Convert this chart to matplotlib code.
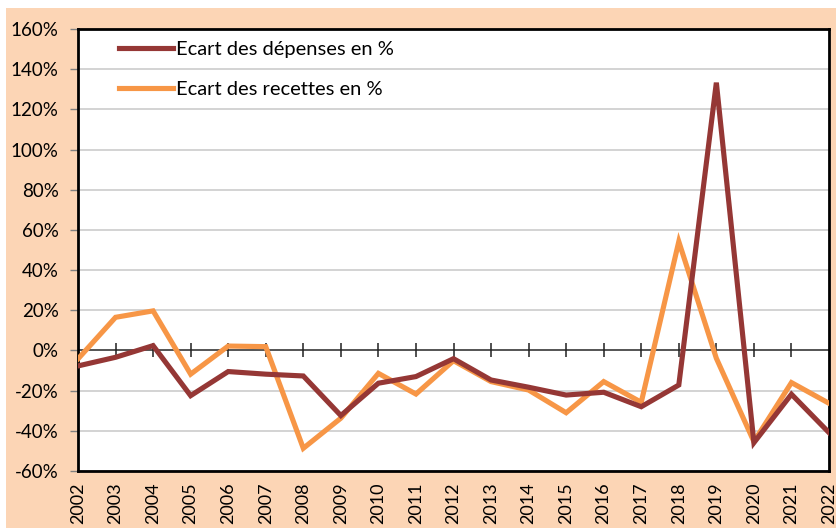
# ============================================================
# ECART DES DEPENSES ET DES RECETTES (2002 - 2022)
# ============================================================

import matplotlib.pyplot as plt
import matplotlib.patches as patches
from matplotlib.ticker import FuncFormatter


# ============================================================
# DONNEES
# ============================================================

annees = list(range(2002, 2023))

ecart_depenses = [
    -7.7, -3.4, 2.4, -22.5, -10.5, -11.8, -12.7, -32.4, -16.3, -13.0,
    -4.1, -14.7, -18.3, -22.2, -20.8, -28.0, -17.2, 133.3, -45.9,
    -21.8, -40.9
]

ecart_recettes = [
    -4.2, 16.5, 19.7, -11.8, 2.2, 1.9, -48.7, -33.7, -11.4, -21.7,
    -5.1, -15.5, -19.7, -31.0, -15.5, -25.8, 54.2, -3.9, -45.4,
    -16.0, -26.3
]

graduations_y = list(range(-60, 161, 20))

libelle_depenses = "Ecart des dépenses en %"
libelle_recettes = "Ecart des recettes en %"


# ============================================================
# STYLE
# ============================================================

plt.rcParams["font.family"] = ["Lato", "DejaVu Sans"]

COULEUR_FOND = "#FCD5B5"
COULEUR_DEPENSES = "#953735"
COULEUR_RECETTES = "#F79646"
COULEUR_GRILLE = "#C8C8C8"


# ============================================================
# FIGURE
# ============================================================

fig = plt.figure(
    figsize=(8.36, 5.28),
    dpi=100,
    facecolor="white"
)

fond = patches.Rectangle(
    (6 / 836, 0),
    1 - 6 / 836,
    1 - 8 / 528,
    transform=fig.transFigure,
    facecolor=COULEUR_FOND,
    edgecolor="none",
    zorder=-10
)
fig.patches.append(fond)

ax = fig.add_axes(
    [78 / 836, 57 / 528, 751 / 836, 442 / 528]
)
ax.set_facecolor("white")
ax.set_zorder(1)


# ============================================================
# COURBES
# ============================================================

ax.plot(
    annees,
    ecart_depenses,
    color=COULEUR_DEPENSES,
    linewidth=3.7,
    solid_joinstyle="miter",
    label=libelle_depenses,
    zorder=4
)

ax.plot(
    annees,
    ecart_recettes,
    color=COULEUR_RECETTES,
    linewidth=3.7,
    solid_joinstyle="miter",
    label=libelle_recettes,
    zorder=3
)


# ============================================================
# AXE ZERO ET GRILLE
# ============================================================

ax.axhline(
    0,
    color="#404040",
    linewidth=1.2,
    zorder=2
)

ax.plot(
    annees[1:-1],
    [0] * len(annees[1:-1]),
    linestyle="none",
    marker="|",
    markersize=9.5,
    markeredgewidth=1.1,
    color="#202020",
    zorder=2
)

ax.set_xlim(annees[0], annees[-1])
ax.set_ylim(graduations_y[0], graduations_y[-1])

ax.set_yticks(graduations_y)
ax.yaxis.set_major_formatter(
    FuncFormatter(lambda v, _: f"{v:.0f}%")
)
ax.yaxis.grid(
    True,
    color=COULEUR_GRILLE,
    linewidth=1.1,
    zorder=1
)
ax.set_axisbelow(True)

ax.set_xticks(annees)
ax.set_xticklabels(
    [str(a) for a in annees],
    rotation=90,
    va="top",
    ha="center"
)

ax.tick_params(
    axis="x",
    length=0,
    pad=8,
    labelsize=13
)

ax.tick_params(
    axis="y",
    direction="out",
    length=6,
    width=1,
    color="#808080",
    labelsize=13.5,
    pad=8
)

for cote in ax.spines.values():
    cote.set_color("black")
    cote.set_linewidth(2)


# ============================================================
# LEGENDE
# ============================================================

ax.legend(
    loc="upper left",
    bbox_to_anchor=(0.038, 1.0),
    frameon=False,
    fontsize=14.5,
    handlelength=2.7,
    handletextpad=0.15,
    labelspacing=1.15,
    borderaxespad=0.2
)


plt.savefig(
    "out.png",
    dpi=100,
    facecolor=fig.get_facecolor()
)
